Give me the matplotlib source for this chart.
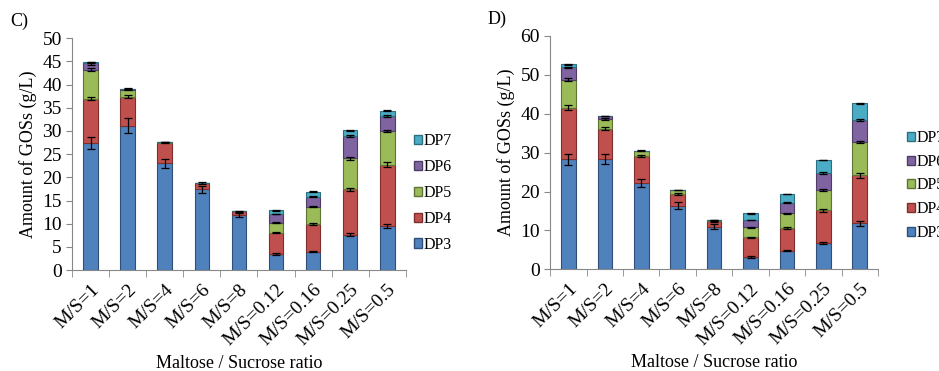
import numpy as np
import matplotlib.pyplot as plt
from matplotlib.patches import Patch

plt.rcParams['font.family'] = ['Liberation Serif', 'DejaVu Serif']

ratios = ['M/S=1', 'M/S=2', 'M/S=4', 'M/S=6', 'M/S=8',
          'M/S=0.12', 'M/S=0.16', 'M/S=0.25', 'M/S=0.5']
fractions = ['DP3', 'DP4', 'DP5', 'DP6', 'DP7']

# panel C: GOS amounts (g/L) per fraction
c_dp3 = [27.4, 31.1, 23.0, 17.4, 11.9, 3.5, 4.0, 7.6, 9.5]
c_dp4 = [9.6, 6.3, 4.5, 1.3, 0.8, 4.6, 5.9, 9.8, 13.2]
c_dp5 = [6.2, 1.5, 0.1, 0.0, 0.0, 2.1, 3.8, 6.7, 7.3]
c_dp6 = [1.4, 0.2, 0.0, 0.0, 0.0, 1.9, 2.1, 4.8, 3.2]
c_dp7 = [0.2, 0.0, 0.0, 0.0, 0.0, 0.8, 1.1, 1.2, 1.2]
c_err3 = [1.3, 1.6, 1.0, 0.7, 0.5, 0.2, 0.2, 0.3, 0.5]
c_err4 = [0.4, 0.3, 0.2, 0.2, 0.1, 0.2, 0.2, 0.4, 0.5]
c_err5 = [0.3, 0.1, 0.0, 0.0, 0.0, 0.1, 0.2, 0.3, 0.3]
c_err6 = [0.3, 0.1, 0.0, 0.0, 0.0, 0.1, 0.1, 0.2, 0.2]
c_err7 = [0.1, 0.0, 0.0, 0.0, 0.0, 0.1, 0.1, 0.1, 0.1]

# panel D
d_dp3 = [28.3, 28.3, 22.3, 16.4, 11.0, 3.2, 4.8, 6.7, 11.8]
d_dp4 = [13.3, 7.8, 6.8, 3.0, 1.4, 5.0, 5.8, 8.5, 12.4]
d_dp5 = [7.2, 2.5, 1.4, 1.0, 0.3, 2.6, 3.8, 5.2, 8.6]
d_dp6 = [3.1, 0.8, 0.0, 0.0, 0.0, 1.9, 2.7, 4.4, 5.6]
d_dp7 = [0.8, 0.0, 0.0, 0.0, 0.0, 1.7, 2.3, 3.3, 4.3]
d_err3 = [1.4, 1.3, 1.0, 0.8, 0.6, 0.2, 0.2, 0.3, 0.6]
d_err4 = [0.6, 0.4, 0.2, 0.2, 0.1, 0.2, 0.2, 0.4, 0.6]
d_err5 = [0.3, 0.2, 0.1, 0.1, 0.0, 0.1, 0.2, 0.2, 0.2]
d_err6 = [0.2, 0.1, 0.0, 0.0, 0.0, 0.1, 0.1, 0.2, 0.2]
d_err7 = [0.1, 0.0, 0.0, 0.0, 0.0, 0.1, 0.1, 0.1, 0.1]

colors = ['#4F81BD', '#C0504D', '#9BBB59', '#8064A2', '#4BACC6']
edges = ['#2F4F78', '#7E2F2D', '#5E7435', '#4D3C63', '#2C6F82']


def draw_panel(ax, layers, errs, ymax, ystep):
    x = np.arange(len(ratios))
    bottom = np.zeros(len(ratios))
    for vals, err, fc, ec in zip(layers, errs, colors, edges):
        vals = np.array(vals)
        ax.bar(x, vals, 0.4, bottom=bottom, color=fc, edgecolor=ec,
               linewidth=0.8, zorder=2)
        top = bottom + vals
        mask = vals > 0
        ax.errorbar(x[mask], top[mask], yerr=np.array(err)[mask], fmt='none',
                    ecolor='black', elinewidth=0.9, capsize=3, capthick=0.9,
                    zorder=3)
        bottom = top
    ax.set_xlim(-0.5, len(ratios) - 0.5)
    ax.set_ylim(0, ymax)
    ax.set_yticks(np.arange(0, ymax + 0.1, ystep))
    ax.set_xticks(x)
    ax.set_xticklabels(ratios, rotation=45, ha='right', va='top',
                       rotation_mode='anchor', fontsize=14)
    ax.set_xticks(np.arange(-0.5, len(ratios)), minor=True)
    ax.tick_params(axis='x', which='major', length=0, pad=8)
    ax.tick_params(axis='x', which='minor', length=5, color='#888888')
    ax.tick_params(axis='y', length=4, color='#888888', labelsize=14)
    for side in ['top', 'right']:
        ax.spines[side].set_visible(False)
    for side in ['left', 'bottom']:
        ax.spines[side].set_color('#888888')
    ax.set_ylabel('Amount of GOSs (g/L)', fontsize=13, labelpad=4)
    ax.set_xlabel('Maltose / Sucrose ratio', fontsize=13, labelpad=4)


fig = plt.figure(figsize=(9.39, 3.71), dpi=100)
ax1 = fig.add_axes([0.077, 0.272, 0.355, 0.625])
ax2 = fig.add_axes([0.586, 0.274, 0.349, 0.629])

draw_panel(ax1, [c_dp3, c_dp4, c_dp5, c_dp6, c_dp7],
           [c_err3, c_err4, c_err5, c_err6, c_err7], 50, 5)
draw_panel(ax2, [d_dp3, d_dp4, d_dp5, d_dp6, d_dp7],
           [d_err3, d_err4, d_err5, d_err6, d_err7], 60, 10)

handles = [Patch(facecolor=fc, edgecolor=ec) for fc, ec in zip(colors, edges)][::-1]
labels = fractions[::-1]
fig.legend(handles, labels, loc='upper left', bbox_to_anchor=(0.426, 0.680),
           frameon=False, fontsize=11.5, handlelength=0.45, handleheight=0.5,
           handletextpad=0.1, labelspacing=0.62)
fig.legend(handles, labels, loc='upper left', bbox_to_anchor=(0.951, 0.688),
           frameon=False, fontsize=11.5, handlelength=0.45, handleheight=0.5,
           handletextpad=0.1, labelspacing=0.48)

fig.text(0.011, 0.93, 'C)', fontsize=13)
fig.text(0.519, 0.935, 'D)', fontsize=13)

fig.savefig('out.png', dpi=100)
